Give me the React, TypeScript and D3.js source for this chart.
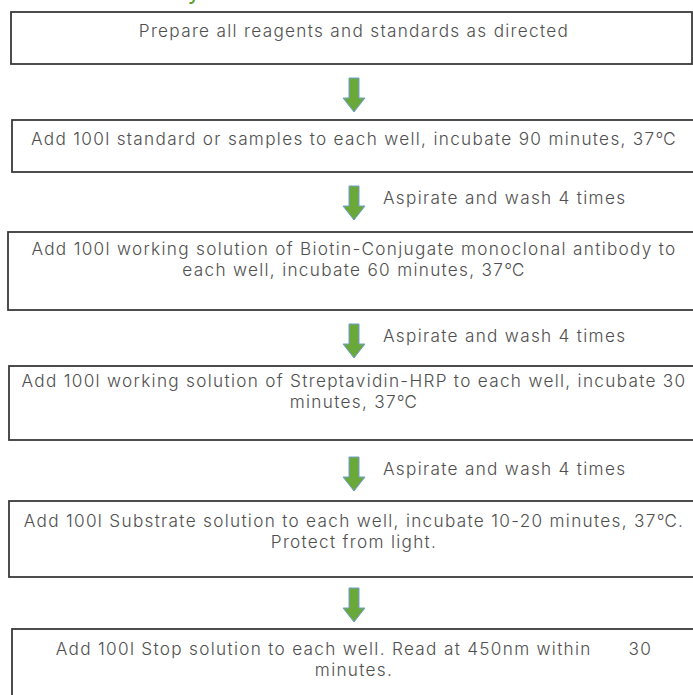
import React, { useEffect, useRef } from 'react';
import * as d3 from 'd3';

// Step texts (one array per box, one entry per line)
const steps: string[][] = [
  ['Prepare all reagents and standards as directed'],
  ['Add 100l standard or samples to each well, incubate 90 minutes, 37℃'],
  ['Add 100l working solution of Biotin-Conjugate monoclonal antibody to', 'each well, incubate 60 minutes, 37℃'],
  ['Add 100l working solution of Streptavidin-HRP to each well, incubate 30', 'minutes, 37℃'],
  ['Add 100l Substrate solution to each well, incubate 10-20 minutes, 37℃.', 'Protect from light.'],
  ['Add 100l Stop solution to each well. Read at 450nm within      30', 'minutes.'],
];

// Labels next to the arrows between boxes
const arrowLabels = ['', 'Aspirate and wash 4 times', 'Aspirate and wash 4 times', 'Aspirate and wash 4 times', ''];

const titleText = 'Assay';

// Layout (px)
const boxLayout = [
  { x: 11, y: 12, w: 681, h: 52, base: 25 },
  { x: 12, y: 120, w: 700, h: 52, base: 25 },
  { x: 8, y: 232, w: 700, h: 78, base: 23 },
  { x: 9, y: 366, w: 700, h: 74, base: 21 },
  { x: 9, y: 501, w: 700, h: 76, base: 26 },
  { x: 12, y: 629, w: 700, h: 80, base: 26 },
];
const arrowTops = [78, 186, 324, 457, 588];

const W = 693;
const H = 695;

const App: React.FC = () => {
  const svgRef = useRef<SVGSVGElement>(null);

  useEffect(() => {
    if (!svgRef.current) return;
    const svg = d3.select(svgRef.current);
    svg.selectAll('*').remove();

    const font = "Inter, 'Open Sans', sans-serif";
    const fontSize = 17.2;
    const spacing = 1.3;
    const cx = 354;
    const lineH = 21;

    // cut-off green title at the very top
    svg.append('text')
      .attr('x', 201)
      .attr('y', -1)
      .attr('text-anchor', 'end')
      .attr('font-family', font)
      .attr('font-size', 24)
      .attr('fill', '#5aa02c')
      .text(titleText);

    // boxes
    const box = svg.selectAll('g.step')
      .data(steps)
      .join('g')
      .attr('class', 'step');

    box.append('rect')
      .attr('x', (_, i) => boxLayout[i].x)
      .attr('y', (_, i) => boxLayout[i].y)
      .attr('width', (_, i) => boxLayout[i].w)
      .attr('height', (_, i) => boxLayout[i].h)
      .attr('fill', '#fff')
      .attr('stroke', '#3a3a3a')
      .attr('stroke-width', 1.8);

    box.each(function (lines, i) {
      const g = d3.select(this);
      lines.forEach((line, j) => {
        g.append('text')
          .attr('x', cx)
          .attr('y', boxLayout[i].y + boxLayout[i].base + j * lineH)
          .attr('text-anchor', 'middle')
          .attr('font-family', font)
          .attr('font-size', fontSize)
          .attr('font-weight', 300)
          .attr('letter-spacing', spacing)
          .attr('fill', '#4f4f4f')
          .style('white-space', 'pre')
          .text(line);
      });
    });

    // arrows
    const shaftW = 10;
    const headW = 22;
    const headH = 14;
    const len = 34;
    const arrowPath = (top: number) => {
      const p = d3.path();
      p.moveTo(cx - shaftW / 2, top);
      p.lineTo(cx + shaftW / 2, top);
      p.lineTo(cx + shaftW / 2, top + len - headH);
      p.lineTo(cx + headW / 2, top + len - headH);
      p.lineTo(cx, top + len);
      p.lineTo(cx - headW / 2, top + len - headH);
      p.lineTo(cx - shaftW / 2, top + len - headH);
      p.closePath();
      return p.toString();
    };

    svg.selectAll('path.arrow')
      .data(arrowTops)
      .join('path')
      .attr('class', 'arrow')
      .attr('d', d => arrowPath(d))
      .attr('fill', '#6aa83a')
      .attr('stroke', '#6e9fd0')
      .attr('stroke-width', 1);

    svg.selectAll('text.wash')
      .data(arrowLabels)
      .join('text')
      .attr('class', 'wash')
      .attr('x', 383)
      .attr('y', (_, i) => arrowTops[i] + 18)
      .attr('font-family', font)
      .attr('font-size', fontSize)
      .attr('font-weight', 300)
      .attr('letter-spacing', spacing)
      .attr('fill', '#4f4f4f')
      .text(d => d);
  }, []);

  return (
    <svg
      ref={svgRef}
      width={W}
      height={H}
      style={{ position: 'absolute', left: 0, top: 0, background: '#fff' }}
    />
  );
};

export default App;
